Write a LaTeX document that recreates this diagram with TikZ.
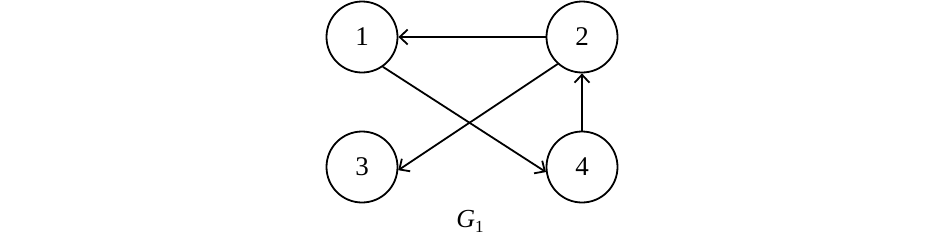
\documentclass[tikz,border=0pt]{standalone}
\usepackage{fontspec}
\setmainfont{Liberation Serif}
\usetikzlibrary{arrows.meta}
\begin{document}
\begin{tikzpicture}[x=1pt,y=-1pt,
  vert/.style={circle,draw,line width=1.8pt,minimum size=71pt,inner sep=0pt,font=\fontsize{27}{30}\selectfont},
  edge/.style={line width=1.8pt,-{Straight Barb[length=8pt,width=15pt,line width=1.8pt]}}]
\useasboundingbox (0,0) rectangle (945,250);
\node[vert] (n1) at (362,37) {1};
\node[vert] (n2) at (582,37) {2};
\node[vert] (n3) at (362,167) {3};
\node[vert] (n4) at (582,167) {4};
\node[font=\fontsize{26}{28}\selectfont] (g) at (470,221) {\textit{G}\raisebox{-5pt}{\fontsize{17}{18}\selectfont 1}};
\draw[edge] (n2) -- (n1);
\draw[edge] (n1.-55) -- (n4.188);
\draw[edge] (n2.228) -- (n3.-5);
\draw[edge] (n4) -- (n2);
\end{tikzpicture}
\end{document}
